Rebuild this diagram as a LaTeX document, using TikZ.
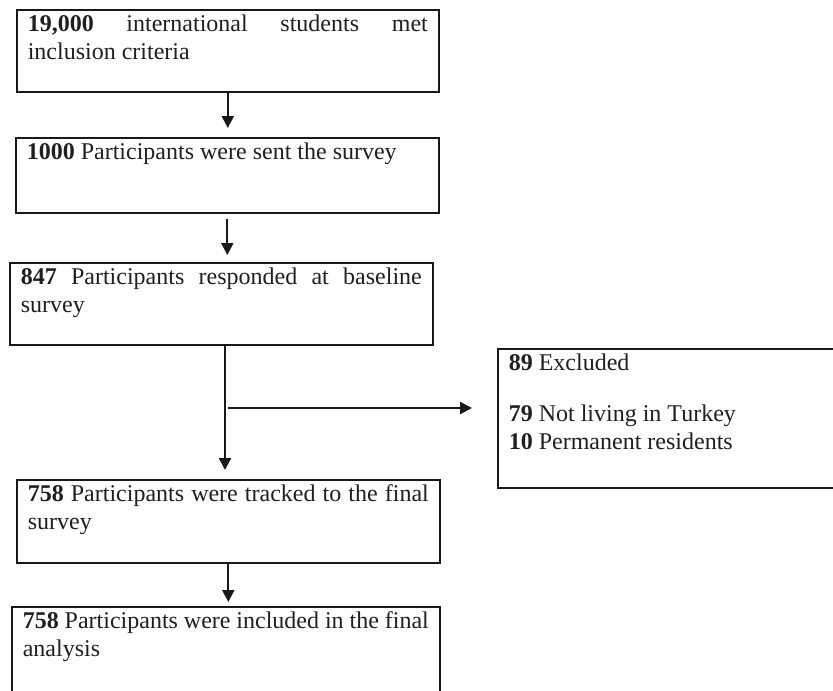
\documentclass[tikz,border=0pt]{standalone}
\usepackage{fontspec}
\setmainfont{Liberation Serif}
\usetikzlibrary{arrows.meta}
\newcommand\fbody[3]{\parbox[c][#2][t]{#1}{\tolerance=10000\hyphenpenalty=10000\strut #3}}
\tikzset{
  flowbox/.style={draw=black!90, line width=0.8pt, anchor=north west,
    inner xsep=5.5pt, inner ysep=1.3pt, text=black!88, font=\fontsize{12}{13.8}\selectfont},
  flowarrow/.style={draw=black!90, line width=1.15pt, -{Triangle[width=6pt,length=6pt]}},
}
\begin{document}
\begin{tikzpicture}[x=0.5pt,y=-0.5pt]
\useasboundingbox (0,0) rectangle (833,690);
\clip (0,0) rectangle (833,690);
\node[flowbox] (b1) at (16,9) {\fbody{200pt}{38.4pt}{\textbf{19,000} international students met inclusion criteria}};
\node[flowbox] (b2) at (15,137) {\fbody{200.5pt}{34.9pt}{\textbf{1000} Participants were sent the survey}};
\node[flowbox] (b3) at (9,262) {\fbody{200.5pt}{38.4pt}{\textbf{847} Participants responded at baseline survey}};
\node[flowbox] (excl) at (497,348) {\fbody{160.5pt}{66.9pt}{\textbf{89} Excluded\\[11.7pt]\textbf{79} Not living in Turkey\\\textbf{10} Permanent residents}};
\node[flowbox] (b4) at (16,479) {\fbody{200.5pt}{38.9pt}{\textbf{758} Participants were tracked to the final survey}};
\node[flowbox] (b5) at (11,606) {\fbody{203pt}{50pt}{\textbf{758} Participants were included in the final analysis}};
\coordinate (split) at (225,408);
\draw[flowarrow, shorten >=4.5pt] (b1.south) -- (b1.south |- b2.north);
\draw[flowarrow, shorten <=2.5pt, shorten >=3.5pt] (b2.south) -- (b2.south |- b3.north);
\draw[flowarrow, shorten >=4.5pt] (b3.south -| split) -- (b4.north -| split);
\draw[flowarrow, shorten >=12.5pt] ([xshift=1.5pt]split) -- (excl.west |- split);
\draw[flowarrow, shorten >=2pt] (b4.south) -- (b4.south |- b5.north);
\end{tikzpicture}
\end{document}
